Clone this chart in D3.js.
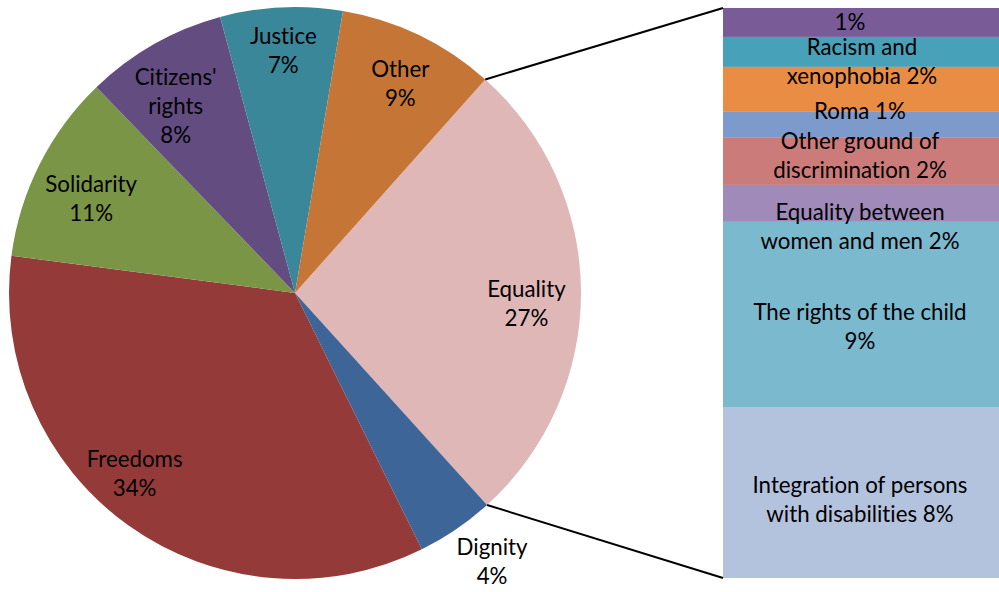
<!DOCTYPE html>
<html><head><meta charset="utf-8">
<script src="https://cdn.jsdelivr.net/npm/d3@7"></script>
<style>html,body{margin:0;padding:0;background:#fff;overflow:hidden} text{font-variant-ligatures:none;font-feature-settings:"liga" 0}</style>
</head><body>
<svg id="chart" width="999" height="592"></svg>
<script>
// ---- data ----
const pieCategories = ["Equality", "Dignity", "Freedoms", "Solidarity", "Citizens' rights", "Justice", "Other"];
const pieValues     = [26.7, 4.4, 34.4, 10.7, 8.0, 6.9, 8.9];
const pieLabelLines = [["Equality","27%"],["Dignity","4%"],["Freedoms","34%"],["Solidarity","11%"],["Citizens'","rights","8%"],["Justice","7%"],["Other","9%"]];

const barCategories = ["(unnamed)", "(unlabelled)", "Racism and xenophobia", "Roma", "Other ground of discrimination", "Equality between women and men", "The rights of the child", "Integration of persons with disabilities"];
const barValues     = [1.37, 1.42, 2.13, 1.23, 2.23, 1.75, 8.77, 8.1];
const barLabelLines = [["1%"], [], ["Racism and","xenophobia 2%"], ["Roma 1%"], ["Other ground of","discrimination 2%"], ["Equality between","women and men 2%"], ["The rights of the child","9%"], ["Integration of persons","with disabilities 8%"]];

// ---- styles ----
const pieColors = ["#DFB7B7", "#3D6598", "#943B3A", "#7B9546", "#634C80", "#3A879A", "#C57636"];
const barColors = ["#795B98", "#47A1B9", "#E98D45", "#7C9ACB", "#CB7B7A", "#A08AB9", "#7BB9CF", "#B4C3DD"];
const labelRadius = [0.81, 1.165, 0.845, 0.785, 0.775, 0.85, 0.82];
const labelAngleNudge = [3, -2, 6, -2, -3, 0, 1];
const barLabelNudgeY = [0, 0, -28, -14, -6, 23, 12, 7];
const barLabelNudgeX = [-10, 0, 2, 0, 0, 0, 0, 0];

const W = 999, H = 592;
const cx = 295, cy = 293, R = 286;
const startDeg = 41.7;
const fontFamily = "Lato, 'Open Sans', sans-serif";
const fontSize = 22.3, lineH = 29;

const svg = d3.select("#chart");
const toRad = d => d * Math.PI / 180;

const pie = d3.pie().sort(null).value(d => d)
  .startAngle(toRad(startDeg)).endAngle(toRad(startDeg + 360));
const arcs = pie(pieValues);
const arc = d3.arc().innerRadius(0).outerRadius(R);

const gPie = svg.append("g").attr("transform", `translate(${cx},${cy})`);
gPie.selectAll("path").data(arcs).join("path")
  .attr("d", arc).attr("fill", (d, i) => pieColors[i]);

function drawLines(g, lines, x, y) {
  const t = g.append("text").attr("x", x).attr("y", y)
    .attr("text-anchor", "middle").attr("font-family", fontFamily)
    .attr("font-size", fontSize).attr("fill", "#000");
  const n = lines.length;
  lines.forEach((s, k) => {
    t.append("tspan").attr("x", x)
      .attr("y", y + (k - (n - 1) / 2) * lineH)
      .attr("dy", "0.35em").text(s);
  });
}

arcs.forEach((a, i) => {
  const mid = (a.startAngle + a.endAngle) / 2 + toRad(labelAngleNudge[i]);
  const r = R * labelRadius[i];
  drawLines(gPie, pieLabelLines[i], r * Math.sin(mid), -r * Math.cos(mid));
});

// ---- bar of pie ----
const barX0 = 723, barX1 = 999, barTop = 8, barBottom = 578;
const total = d3.sum(barValues);
const y = d3.scaleLinear().domain([0, total]).range([barTop, barBottom]);
const cum = d3.cumsum(barValues);
const segs = barValues.map((v, i) => ({ v, y0: cum[i] - v, y1: cum[i] }));

const gBar = svg.append("g");
gBar.selectAll("rect").data(segs).join("rect")
  .attr("x", barX0).attr("width", barX1 - barX0)
  .attr("y", d => y(d.y0)).attr("height", d => y(d.y1) - y(d.y0))
  .attr("fill", (d, i) => barColors[i]);

segs.forEach((d, i) => {
  if (!barLabelLines[i].length) return;
  const my = (y(d.y0) + y(d.y1)) / 2 + barLabelNudgeY[i];
  drawLines(gBar, barLabelLines[i], (barX0 + barX1) / 2 - 1 + barLabelNudgeX[i], my);
});

// ---- connector lines ----
const aTop = arcs[0].startAngle, aBot = arcs[0].endAngle;
svg.append("line")
  .attr("x1", cx + R * Math.sin(aTop)).attr("y1", cy - R * Math.cos(aTop))
  .attr("x2", barX0).attr("y2", y(0))
  .attr("stroke", "#000").attr("stroke-width", 2);
svg.append("line")
  .attr("x1", cx + R * Math.sin(aBot)).attr("y1", cy - R * Math.cos(aBot))
  .attr("x2", barX0).attr("y2", y(total))
  .attr("stroke", "#000").attr("stroke-width", 2);
</script>
</body></html>
